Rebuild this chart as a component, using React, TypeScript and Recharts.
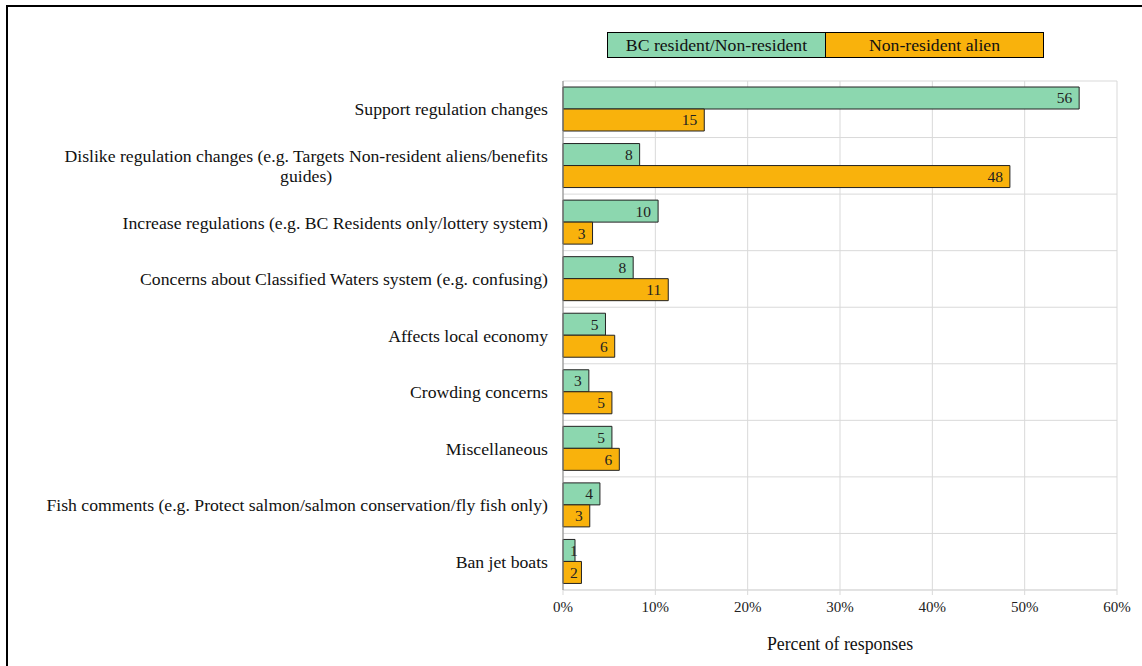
import React from "react";
import {
  BarChart,
  Bar,
  XAxis,
  YAxis,
  CartesianGrid,
  Legend,
  LabelList,
} from "recharts";

// categories top to bottom (line break = wrapped label)
const categories = [
  "Support regulation changes",
  "Dislike regulation changes (e.g. Targets Non-resident aliens/benefits\nguides)",
  "Increase regulations (e.g. BC Residents only/lottery system)",
  "Concerns about Classified Waters system (e.g. confusing)",
  "Affects local economy",
  "Crowding concerns",
  "Miscellaneous",
  "Fish comments (e.g. Protect salmon/salmon conservation/fly fish only)",
  "Ban jet boats",
];

// percent of responses
const bcResident = [55.9, 8.3, 10.3, 7.6, 4.6, 2.8, 5.3, 4.0, 1.3];
const nonResidentAlien = [15.3, 48.4, 3.2, 11.4, 5.6, 5.3, 6.1, 2.9, 2.0];

const xTicks = [0, 10, 20, 30, 40, 50, 60];

const SERIF = '"Liberation Serif", "Times New Roman", serif';
const GREEN = "#8cd7af";
const ORANGE = "#f9b20c";

const data = categories.map((name, i) => ({
  name,
  bc: bcResident[i],
  nra: nonResidentAlien[i],
}));

let ctx: CanvasRenderingContext2D | null = null;
function textWidth(text: string, size: number) {
  if (!ctx) ctx = document.createElement("canvas").getContext("2d");
  if (!ctx) return text.length * size * 0.45;
  ctx.font = `${size}px "Liberation Serif"`;
  return ctx.measureText(text).width;
}

const CategoryTick = (props: any) => {
  const { x, y, payload } = props;
  const lines = String(payload.value).split("\n");
  const size = 17.7;
  const lineH = 20;
  if (lines.length === 1) {
    return (
      <text x={x} y={y} dy="0.35em" textAnchor="end" fontSize={size} fontFamily={SERIF} fill="#111">
        {lines[0]}
      </text>
    );
  }
  const blockW = Math.max(...lines.map((l) => textWidth(l, size)));
  return (
    <g>
      {lines.map((l, i) => (
        <text
          key={i}
          x={x - blockW / 2}
          y={y + (i - (lines.length - 1) / 2) * lineH}
          dy="0.35em"
          textAnchor="middle"
          fontSize={size}
          fontFamily={SERIF}
          fill="#111"
        >
          {l}
        </text>
      ))}
    </g>
  );
};

const BarValue = (props: any) => {
  const { x, y, width, height, value } = props;
  const txt = String(Math.round(Number(value)));
  const size = 15.5;
  const tw = textWidth(txt, size);
  const endX = Math.max(x + width - 7, x + 7 + tw);
  return (
    <text x={endX} y={y + height / 2} dy="0.35em" textAnchor="end" fontSize={size} fontFamily={SERIF} fill="#222">
      {txt}
    </text>
  );
};

const LegendBoxes = (props: any) => {
  const items = props.payload || [];
  return (
    <div style={{ display: "flex" }}>
      {items.map((entry: any, i: number) => (
        <div
          key={entry.value}
          style={{
            width: 217,
            height: 24,
            lineHeight: "24px",
            background: entry.color,
            border: "1px solid #000",
            borderLeft: i === 0 ? "1px solid #000" : "none",
            textAlign: "center",
            fontFamily: SERIF,
            fontSize: 17.7,
            color: "#111",
          }}
        >
          {entry.value}
        </div>
      ))}
    </div>
  );
};

export default function App() {
  return (
    <div
      style={{
        position: "fixed",
        left: 0,
        top: 0,
        width: 1142,
        height: 666,
        overflow: "hidden",
        background: "#fff",
      }}
    >
      <div
        style={{
          position: "absolute",
          left: 6,
          top: 5,
          width: 1200,
          height: 700,
          border: "2px solid #000",
        }}
      />
      <div style={{ position: "absolute", left: 0, top: 0 }}>
        <BarChart
          width={1142}
          height={666}
          data={data}
          layout="vertical"
          margin={{ top: 81, right: 25, bottom: 0, left: 0 }}
          barGap={0}
        >
          <CartesianGrid
            stroke="#d9d9d9"
            horizontalCoordinatesGenerator={({ offset }: any) =>
              Array.from({ length: categories.length + 1 }, (_, i) => offset.top + (i * offset.height) / categories.length)
            }
          />
          <XAxis
            type="number"
            domain={[0, 60]}
            ticks={xTicks}
            tickFormatter={(v) => `${v}%`}
            height={76}
            axisLine={{ stroke: "#d9d9d9" }}
            tickLine={{ stroke: "#d9d9d9" }}
            tickSize={5}
            tickMargin={6}
            tick={{ fontSize: 15, fontFamily: SERIF, fill: "#222" }}
            label={{
              value: "Percent of responses",
              position: "insideBottom",
              offset: 16,
              fontSize: 17.8,
              fontFamily: SERIF,
              fill: "#111",
            }}
          />
          <YAxis
            type="category"
            dataKey="name"
            width={563}
            axisLine={{ stroke: "#868686" }}
            tickLine={false}
            tickSize={0}
            tickMargin={15}
            interval={0}
            tick={<CategoryTick />}
          />
          <Legend
            verticalAlign="middle"
            align="center"
            content={<LegendBoxes />}
            wrapperStyle={{ top: 32, left: 607, width: 440, height: 26 }}
          />
          <Bar
            dataKey="bc"
            name="BC resident/Non-resident"
            fill={GREEN}
            stroke="#222"
            strokeWidth={1}
            barSize={22}
            isAnimationActive={false}
          >
            <LabelList dataKey="bc" content={<BarValue />} />
          </Bar>
          <Bar
            dataKey="nra"
            name="Non-resident alien"
            fill={ORANGE}
            stroke="#222"
            strokeWidth={1}
            barSize={22}
            isAnimationActive={false}
          >
            <LabelList dataKey="nra" content={<BarValue />} />
          </Bar>
        </BarChart>
      </div>
    </div>
  );
}
